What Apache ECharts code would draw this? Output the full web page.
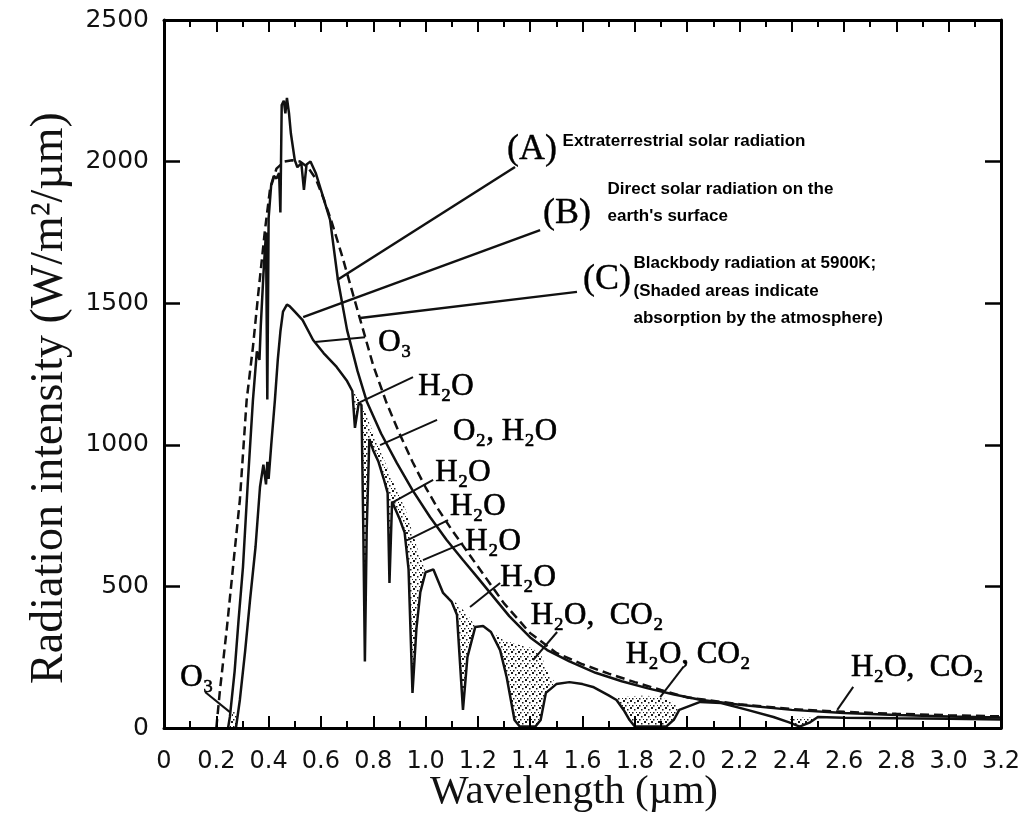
<!DOCTYPE html>
<html>
<head>
<meta charset="utf-8">
<style>
  html, body { margin: 0; background: #fff; }
  #chart { width: 1032px; height: 827px; }
</style>
<script src="https://cdn.jsdelivr.net/npm/echarts@6/dist/echarts.min.js"></script>
</head>
<body>
<div id="chart"></div>
<script>
// (A) extraterrestrial solar radiation, W/m2/um vs um
const extraX = [0.245, 0.252, 0.27, 0.285, 0.302, 0.32, 0.34, 0.355, 0.365, 0.37, 0.38, 0.39, 0.395, 0.40, 0.41, 0.42, 0.43, 0.44, 0.445, 0.45, 0.458, 0.464, 0.47, 0.478, 0.485, 0.50, 0.51, 0.525, 0.535, 0.545, 0.56, 0.58, 0.60, 0.635, 0.665, 0.70, 0.74, 0.776, 0.83, 0.89, 0.95, 1.017, 1.08, 1.143, 1.20, 1.247, 1.32, 1.40, 1.465, 1.55, 1.65, 1.75, 1.85, 1.95, 2.05, 2.20, 2.40, 2.60, 2.80, 3.00, 3.20];
const extraY = [0, 40, 200, 380, 569, 860, 1158, 1330, 1300, 1420, 1600, 1750, 1160, 1800, 1920, 1950, 1940, 1960, 1820, 2200, 2215, 2170, 2225, 2170, 2100, 2005, 1980, 1995, 1900, 1990, 2000, 1960, 1900, 1794, 1582, 1405, 1260, 1151, 1040, 936, 840, 745, 665, 593, 530, 477, 395, 320, 275, 235, 195, 165, 140, 118, 100, 82, 64, 53, 46, 41, 37];

// (B) direct solar radiation on the earth's surface
const directX = [0.275, 0.29, 0.31, 0.329, 0.35, 0.367, 0.38, 0.39, 0.395, 0.40, 0.41, 0.424, 0.435, 0.445, 0.455, 0.47, 0.48, 0.50, 0.53, 0.57, 0.61, 0.66, 0.70, 0.72, 0.73, 0.745, 0.755, 0.762, 0.768, 0.775, 0.785, 0.80, 0.82, 0.84, 0.855, 0.862, 0.872, 0.90, 0.92, 0.935, 0.95, 0.965, 0.98, 1.0, 1.03, 1.067, 1.10, 1.12, 1.143, 1.16, 1.19, 1.22, 1.25, 1.285, 1.31, 1.34, 1.36, 1.42, 1.44, 1.46, 1.50, 1.55, 1.60, 1.64, 1.70, 1.73, 1.76, 1.78, 1.80, 1.92, 1.95, 1.97, 2.05, 2.13, 2.23, 2.33, 2.39, 2.43, 2.47, 2.50, 2.60, 2.80, 3.00, 3.20];
const directY = [0, 99, 270, 452, 640, 851, 930, 860, 940, 880, 1000, 1158, 1300, 1400, 1470, 1495, 1490, 1470, 1440, 1370, 1324, 1275, 1225, 1190, 1060, 1150, 1140, 700, 235, 700, 1020, 980, 940, 880, 830, 512, 800, 740, 690, 560, 124, 350, 480, 550, 560, 477, 445, 400, 64, 250, 357, 360, 339, 275, 180, 28, 5, 5, 28, 124, 155, 162, 155, 145, 115, 99, 60, 28, 5, 5, 30, 64, 92, 88, 64, 39, 20, 5, 20, 39, 36, 34, 33, 30];

// (C) blackbody radiation at 5900K
const blackX = [0.20, 0.214, 0.24, 0.264, 0.29, 0.316, 0.34, 0.36, 0.386, 0.405, 0.43, 0.46, 0.49, 0.52, 0.55, 0.58, 0.61, 0.64, 0.68, 0.72, 0.76, 0.80, 0.85, 0.90, 0.95, 1.00, 1.05, 1.10, 1.20, 1.30, 1.40, 1.50, 1.60, 1.70, 1.80, 1.90, 2.00, 2.20, 2.40, 2.60, 2.80, 3.00, 3.20];
const blackY = [0, 134, 350, 569, 805, 1158, 1345, 1530, 1758, 1900, 1975, 2000, 2005, 2000, 1980, 1940, 1870, 1790, 1670, 1540, 1410, 1280, 1150, 1040, 940, 850, 770, 700, 570, 440, 335, 265, 225, 192, 162, 134, 108, 84, 67, 57, 50, 45, 41];

// upper edge of the shaded absorption bands (null = gap between bands)
const shadeX = [0.25, 0.262, 0.28, 0.29, null, 0.70, 0.72, 0.74, 0.76, 0.78, 0.80, 0.84, 0.88, 0.92, 0.95, 0.98, 1.00, null, 1.067, 1.10, 1.13, 1.16, 1.19, null, 1.25, 1.30, 1.35, 1.40, 1.44, 1.47, 1.50, null, 1.73, 1.78, 1.84, 1.90, 1.95, 1.97, null, 2.39, 2.43, 2.47, 2.50];
const shadeY = [0, 55, 60, 99, null, 1225, 1195, 1165, 1135, 1090, 1040, 950, 860, 780, 690, 600, 555, null, 477, 455, 430, 400, 360, null, 339, 310, 295, 285, 262, 190, 155, null, 105, 112, 115, 108, 90, 64, null, 30, 38, 38, 39];

const xTicks = [0, 0.2, 0.4, 0.6, 0.8, 1.0, 1.2, 1.4, 1.6, 1.8, 2.0, 2.2, 2.4, 2.6, 2.8, 3.0, 3.2];

// annotations, in data units
const tagText = ['(A)', '(B)', '(C)'];
const tagX = [1.407, 1.541, 1.694];
const tagY = [2044, 1815, 1582];

const descText = ['Extraterrestrial solar radiation', 'Direct solar radiation on the', "earth's surface",
  'Blackbody radiation at 5900K;', '(Shaded areas indicate', 'absorption by the atmosphere)'];
const descX = [1.522, 1.694, 1.694, 1.793, 1.793, 1.793];
const descY = [2073, 1903, 1808, 1642, 1543, 1448];

const gasText = ['O₃', 'H₂O', 'O₂, H₂O', 'H₂O', 'H₂O', 'H₂O', 'H₂O', 'H₂O,  CO₂', 'H₂O, CO₂', 'H₂O,  CO₂', 'O₃'];
const gasX = [0.883, 1.078, 1.304, 1.143, 1.20, 1.258, 1.392, 1.656, 2.004, 2.88, 0.126];
const gasY = [1359, 1204, 1045, 900, 780, 657, 530, 395, 258, 212, 177];

const leadFromX = [1.342, 1.438, 1.579, 0.577, 0.75, 0.826, 0.876, 0.933, 0.99, 1.17, 1.411, 1.897, 2.574, 0.157];
const leadFromY = [1981, 1758, 1540, 1363, 1151, 999, 798, 664, 593, 427, 240, 109, 64, 127];
const leadToX = [0.662, 0.532, 0.75, 0.769, 0.952, 1.044, 1.029, 1.086, 1.143, 1.285, 1.503, 1.985, 2.635, 0.252];
const leadToY = [1582, 1451, 1448, 1380, 1239, 1088, 876, 734, 653, 512, 339, 215, 145, 56];

const pairs = (xs, ys) => xs.map((x, i) => (x === null ? ['-', '-'] : [x, ys[i]]));

// stipple used for the shaded bands
const dots = document.createElement('canvas');
dots.width = 7; dots.height = 7;
const g = dots.getContext('2d');
g.fillStyle = '#1a1a1a';
g.fillRect(0, 0, 2, 2);
g.fillRect(4, 2, 1.5, 1.5);
g.fillRect(2, 5, 1.5, 1.5);
g.fillRect(6, 5, 1, 1);

const ink = '#000';
const serif = 'Liberation Serif, DejaVu Serif, serif';

const notes = [];
tagText.forEach((t, i) => notes.push({
  value: [tagX[i], tagY[i]],
  label: { formatter: t, position: 'inside', fontFamily: serif, fontSize: 36, color: ink,
    textBorderColor: ink, textBorderWidth: 0.4, opacity: 1 }
}));
descText.forEach((t, i) => notes.push({
  value: [descX[i], descY[i]],
  label: { formatter: t, position: 'right', distance: 0, fontFamily: 'Liberation Sans, Arial, sans-serif',
    fontWeight: 'bold', fontSize: 17, color: ink, textBorderWidth: 0, opacity: 1 }
}));
gasText.forEach((t, i) => notes.push({
  value: [gasX[i], gasY[i]],
  label: { formatter: t, position: 'inside', fontFamily: serif, fontSize: 31, color: ink,
    textBorderColor: ink, textBorderWidth: 0.6, opacity: 1 }
}));

const leaders = leadFromX.map((x, i) => [
  { coord: [x, leadFromY[i]], lineStyle: { width: i < 3 ? 2.5 : 2 } },
  { coord: [leadToX[i], leadToY[i]] }
]);

const frame = { show: true, onZero: false, lineStyle: { color: '#000', width: 3 } };
const xTick = { inside: true, length: 12, lineStyle: { color: '#000', width: 2 } };
const xMinor = { show: true, splitNumber: 2, length: 7, lineStyle: { color: '#000', width: 2 } };
const yTick = { inside: true, length: 16, lineStyle: { color: '#000', width: 2.5 } };

const chart = echarts.init(document.getElementById('chart'));
chart.setOption({
  animation: false,
  backgroundColor: '#fff',
  grid: { left: 164, right: 31, top: 20, bottom: 99 },
  graphic: [{
    type: 'text', x: 50, y: 398, rotation: Math.PI / 2, z: 10,
    style: { text: 'Radiation intensity (W/m²/µm)', font: '46px ' + serif, fill: '#111',
      textAlign: 'center', textVerticalAlign: 'middle' }
  }, {
    type: 'text', x: 574, y: 792, z: 10,
    style: { text: 'Wavelength (µm)', font: '41px ' + serif, fill: '#111',
      textAlign: 'center', textVerticalAlign: 'middle' }
  }],
  xAxis: [{
    type: 'value', min: 0, max: 3.2, interval: 0.2, position: 'bottom', z: 5,
    axisLine: frame, axisTick: xTick, minorTick: xMinor,
    splitLine: { show: false },
    axisLabel: {
      fontFamily: 'DejaVu Sans', fontSize: 24, color: '#111', margin: 22,
      formatter: v => { const t = xTicks.find(k => Math.abs(k - v) < 1e-6); return t === 0 ? '0' : t.toFixed(1); }
    }
  }, {
    type: 'value', min: 0, max: 3.2, interval: 0.2, position: 'top', z: 5,
    axisLine: frame, axisTick: xTick, minorTick: xMinor,
    splitLine: { show: false },
    axisLabel: { show: false }
  }],
  yAxis: [{
    type: 'value', min: 0, max: 2500, interval: 500, position: 'left', z: 5,
    axisLine: frame, axisTick: yTick,
    splitLine: { show: false },
    axisLabel: { fontFamily: 'DejaVu Sans', fontSize: 25, color: '#111', margin: 15, formatter: v => String(v) }
  }, {
    type: 'value', min: 0, max: 2500, interval: 500, position: 'right', z: 5,
    axisLine: frame, axisTick: yTick,
    splitLine: { show: false },
    axisLabel: { show: false }
  }],
  series: [{
    name: 'shade', type: 'line', z: 1, symbol: 'none', connectNulls: false,
    data: pairs(shadeX, shadeY),
    lineStyle: { width: 0, opacity: 0 },
    areaStyle: { color: { image: dots, repeat: 'repeat' }, opacity: 1 }
  }, {
    name: 'B', type: 'line', z: 2, symbol: 'none',
    data: pairs(directX, directY),
    lineStyle: { color: '#111', width: 2.5 },
    areaStyle: { color: '#fff', opacity: 1 }
  }, {
    name: 'A', type: 'line', z: 3, symbol: 'none',
    data: pairs(extraX, extraY),
    lineStyle: { color: '#111', width: 2.5 }
  }, {
    name: 'C', type: 'line', z: 3, symbol: 'none',
    data: pairs(blackX, blackY),
    lineStyle: { color: '#111', width: 2.5, type: [9, 5] }
  }, {
    name: 'notes', type: 'scatter', z: 6, symbolSize: 1,
    itemStyle: { color: 'rgba(0,0,0,0)', opacity: 1 },
    label: { show: true },
    data: notes,
    markLine: {
      silent: true, symbol: 'none',
      label: { show: false },
      lineStyle: { color: '#111', type: 'solid', width: 2, opacity: 1 },
      data: leaders
    }
  }]
});
</script>
</body>
</html>
